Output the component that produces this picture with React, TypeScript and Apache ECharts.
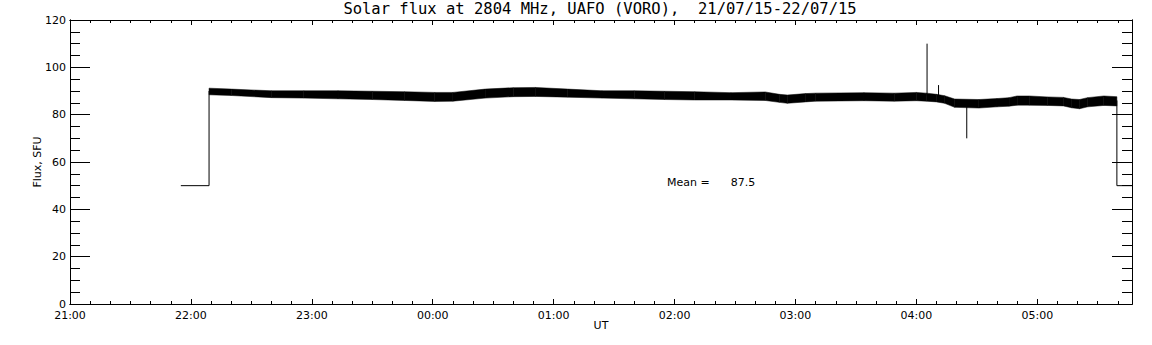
import React, { useEffect, useRef } from "react";
import * as echarts from "echarts";

// Time in minutes after 21:00 UT (21/07/15)
const AXIS_MAX_MIN = 527;

// Noisy flux band: [minutes, lower SFU, upper SFU]
const bandTimes = [69, 80, 100, 116, 133, 150, 166, 181, 190, 206, 220, 231, 247, 264, 280, 295, 310, 328, 345, 352, 356, 365, 370, 394, 409, 420, 425, 430, 434, 439, 451, 460, 466, 470, 476, 485, 493, 497, 501, 505, 513, 519.5];
const bandLower = [88.4, 88.1, 87.2, 87.0, 86.7, 86.4, 86.0, 85.6, 85.7, 87.0, 87.6, 87.7, 87.4, 87.0, 86.7, 86.4, 86.2, 86.2, 86.0, 85.2, 84.8, 85.4, 85.7, 85.9, 85.7, 85.9, 85.7, 85.4, 84.8, 83.1, 82.8, 83.3, 83.6, 84.0, 84.0, 83.9, 83.7, 82.9, 82.5, 83.3, 83.9, 83.7];
const bandUpper = [91.2, 90.8, 90.1, 90.1, 90.1, 89.9, 89.7, 89.4, 89.4, 90.8, 91.4, 91.5, 90.8, 90.1, 90.1, 89.9, 89.7, 89.3, 89.6, 88.6, 88.3, 88.9, 89.1, 89.3, 89.1, 89.4, 89.1, 88.6, 88.0, 86.6, 86.4, 86.8, 87.2, 87.9, 87.9, 87.5, 87.3, 86.6, 86.4, 87.2, 87.9, 87.6];

// Step at start (no-signal level) and at end
const startStep: [number, number][] = [[55, 50], [69, 50], [69, 90]];
const endStep: [number, number][] = [[519.5, 86], [519.5, 50], [527, 50]];

// Spikes: [minutes, base, tip]
const spikes: [number, number, number][] = [
  [425.3, 88, 110],
  [431, 88, 92.5],
  [445, 84, 70],
];

const yTicks = { min: 0, max: 120, major: 20, minor: 5 };
const xTicks = { major: 60, minor: 10 };
const meanValue = 87.5;
const titleText = "Solar flux at 2804 MHz, UAFO (VORO),  21/07/15-22/07/15";

const FONT = "DejaVu Sans";

function fmtTime(v: number): string {
  const h = (21 + Math.round(v / 60)) % 24;
  return (h < 10 ? "0" : "") + h + ":00";
}

export default function App() {
  const ref = useRef<HTMLDivElement>(null);
  useEffect(() => {
    document.body.style.margin = "0";
    const chart = echarts.init(ref.current!, undefined, { renderer: "svg" });

    const bandData = bandTimes.map((t, i) => [t, bandLower[i], bandUpper[i]]);

    const spikeSeries = spikes.map((s) => ({
      type: "line",
      data: [[s[0], s[1]], [s[0], s[2]]],
      symbol: "none",
      lineStyle: { color: "#000", width: 1 },
      silent: true,
    }));

    const xAxisOf = (position: string, interval: number, len: number, extra: any = {}) => ({
      type: "value",
      position,
      min: 0,
      max: AXIS_MAX_MIN,
      interval,
      axisLine: { show: true, onZero: false, lineStyle: { color: "#000", width: 1 } },
      axisTick: { show: true, inside: true, length: len, lineStyle: { color: "#000" } },
      axisLabel: { show: false },
      splitLine: { show: false },
      ...extra,
    });
    const yAxisOf = (position: string, interval: number, len: number, extra: any = {}) => ({
      type: "value",
      position,
      min: yTicks.min,
      max: yTicks.max,
      interval,
      axisLine: { show: true, onZero: false, lineStyle: { color: "#000", width: 1 } },
      axisTick: { show: true, inside: true, length: len, lineStyle: { color: "#000" } },
      axisLabel: { show: false },
      splitLine: { show: false },
      ...extra,
    });

    chart.setOption({
      animation: false,
      backgroundColor: "#fff",
      grid: { left: 70, right: 20, top: 20, bottom: 41, show: false },
      xAxis: [
        xAxisOf("bottom", xTicks.major, 5, {
          name: "UT",
          nameLocation: "middle",
          nameGap: 16,
          nameMoveOverlap: false,
          nameTextStyle: { fontFamily: FONT, fontSize: 11, color: "#000" },
          axisLabel: {
            show: true,
            margin: 6,
            showMaxLabel: false,
            fontFamily: FONT,
            fontSize: 11,
            color: "#000",
            formatter: (v: number) => fmtTime(v),
          },
        }),
        xAxisOf("top", xTicks.major, 5),
        xAxisOf("bottom", xTicks.minor, 3),
        xAxisOf("top", xTicks.minor, 3),
      ],
      yAxis: [
        yAxisOf("left", yTicks.major, 20, {
          name: "Flux, SFU",
          nameLocation: "middle",
          nameGap: 27,
          nameMoveOverlap: false,
          nameRotate: 90,
          nameTextStyle: { fontFamily: FONT, fontSize: 11, color: "#000" },
          axisLabel: { show: true, margin: 4, fontFamily: FONT, fontSize: 11, color: "#000" },
        }),
        yAxisOf("right", yTicks.major, 20),
        yAxisOf("left", yTicks.minor, 10),
        yAxisOf("right", yTicks.minor, 10),
      ],
      series: [
        {
          type: "line",
          data: startStep,
          symbol: "none",
          lineStyle: { color: "#000", width: 1 },
          silent: true,
        },
        {
          type: "line",
          data: endStep,
          symbol: "none",
          lineStyle: { color: "#000", width: 1 },
          silent: true,
        },
        {
          type: "custom",
          data: bandData,
          silent: true,
          encode: { x: 0, y: [1, 2] },
          renderItem: (params: any, api: any) => {
            const i = params.dataIndex;
            if (i >= bandTimes.length - 1) return null;
            const a1 = api.coord([bandTimes[i], bandUpper[i]]);
            const b1 = api.coord([bandTimes[i + 1], bandUpper[i + 1]]);
            const b0 = api.coord([bandTimes[i + 1], bandLower[i + 1]]);
            const a0 = api.coord([bandTimes[i], bandLower[i]]);
            return {
              type: "polygon",
              shape: { points: [a1, b1, b0, a0] },
              style: { fill: "#000", stroke: "#000", lineWidth: 0.5 },
            };
          },
        },
        ...spikeSeries,
      ],
      graphic: [
        {
          type: "text",
          x: 600,
          y: 9,
          style: {
            text: titleText,
            fontFamily: "DejaVu Sans Mono",
            fontSize: 15.5,
            fill: "#000",
            align: "center",
            verticalAlign: "middle",
          },
        },
        {
          type: "text",
          left: 667,
          top: 177,
          style: {
            text: "Mean =      " + meanValue.toFixed(1),
            fontFamily: FONT,
            fontSize: 11,
            fill: "#000",
          },
        },
      ],
    });
    return () => chart.dispose();
  }, []);
  return <div ref={ref} style={{ width: 1152, height: 345, position: "absolute", left: 0, top: 0 }} />;
}
